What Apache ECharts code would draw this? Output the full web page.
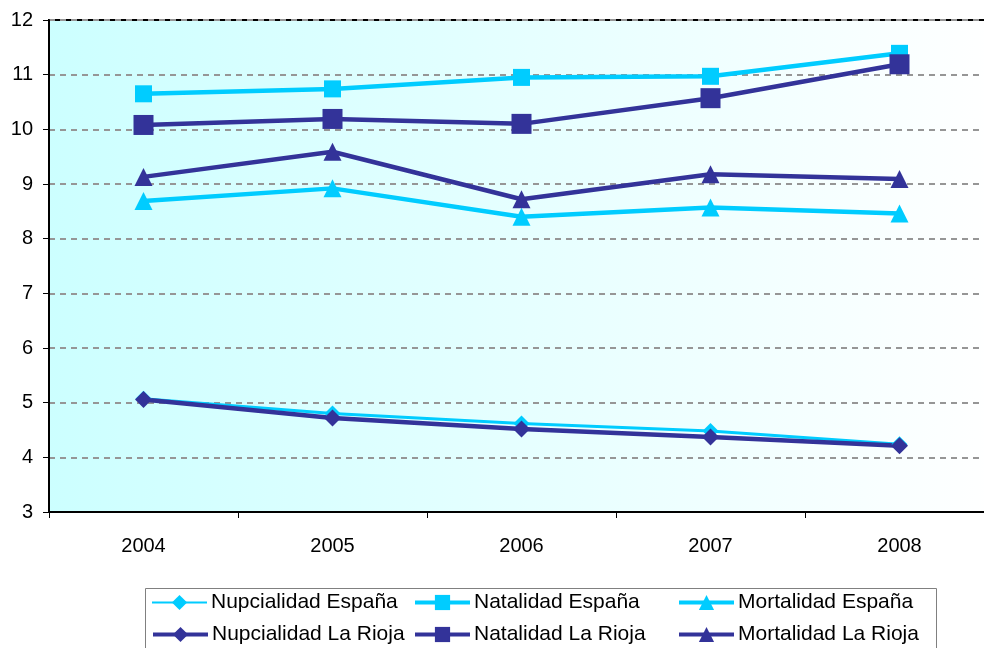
<!DOCTYPE html>
<html><head><meta charset="utf-8">
<script src="https://cdn.jsdelivr.net/npm/echarts@6/dist/echarts.min.js"></script>
<style>html,body{margin:0;padding:0;background:#fff;overflow:hidden;width:984px;height:648px}#c{width:996px;height:648px}</style>
</head><body><div id="c"></div>
<script>
var years = ['2004','2005','2006','2007','2008'];
var nupEsp = [5.07, 4.80, 4.62, 4.48, 4.24];
var natEsp = [10.65, 10.74, 10.95, 10.97, 11.39];
var morEsp = [8.69, 8.92, 8.40, 8.57, 8.46];
var nupRio = [5.06, 4.72, 4.52, 4.37, 4.21];
var natRio = [10.08, 10.19, 10.10, 10.57, 11.19];
var morRio = [9.13, 9.59, 8.72, 9.18, 9.09];
var seriesNames = ['Nupcialidad España','Natalidad España','Mortalidad España','Nupcialidad La Rioja','Natalidad La Rioja','Mortalidad La Rioja'];

var light = '#00ccff', dark = '#333399';
var FONT = 'Liberation Sans, Arial, sans-serif';
var chart = echarts.init(document.getElementById('c'), null, {renderer:'canvas'});

function mk(name, data, color, symbol, size, width) {
  return {
    name: name, type: 'line', data: data, symbol: symbol, symbolSize: size,
    lineStyle: {color: color, width: width}, itemStyle: {color: color},
    emphasis: {disabled: true}, animation: false, z: 3
  };
}
var legendPos = [[151,592],[413,592],[677,592],[151,624],[413,624],[677,624]];
var legendLineW = [2, 4, 4, 4, 4, 4];
var legends = seriesNames.map(function(n, i){
  return {
    data: [n], left: legendPos[i][0], top: legendPos[i][1], itemWidth: 55, itemHeight: 19,
    itemGap: 4, padding: 0, selectedMode: false,
    lineStyle: {width: legendLineW[i]},
    textStyle: {fontFamily: FONT, fontSize: 21, color: '#000', padding: [0,0,0,-1]}
  };
});

chart.setOption({
  animation: false,
  backgroundColor: '#fff',
  grid: {
    left: 49, top: 20, right: 2, height: 492, show: true,
    borderColor: '#000', borderWidth: 2,
    backgroundColor: new echarts.graphic.LinearGradient(0, 0, 1, 0, [
      {offset: 0, color: '#ccffff'}, {offset: 1, color: '#ffffff'}
    ])
  },
  graphic: [{
    type: 'rect', left: 145, top: 588, shape: {width: 791, height: 70},
    style: {fill: '#fff', stroke: '#808080', lineWidth: 1}, z: -1
  }],
  legend: legends,
  xAxis: {
    type: 'category', data: years, boundaryGap: true,
    axisLine: {show: true, lineStyle: {color: '#000', width: 2}},
    axisTick: {show: true, length: 6, lineStyle: {color: '#000', width: 1}},
    axisLabel: {fontFamily: FONT, fontSize: 20, color: '#000', margin: 24},
    splitLine: {show: false}
  },
  yAxis: {
    type: 'value', min: 3, max: 12, interval: 1,
    axisLine: {show: true, lineStyle: {color: '#000', width: 2}},
    axisTick: {show: true, length: 6, lineStyle: {color: '#000', width: 1}},
    axisLabel: {fontFamily: FONT, fontSize: 20, color: '#000', margin: 16},
    splitLine: {show: true, lineStyle: {color: '#969696', width: 2, type: [6, 5]}}
  },
  series: [
    mk(seriesNames[0], nupEsp, light, 'diamond', 16, 3),
    mk(seriesNames[1], natEsp, light, 'rect', 17, 4.5),
    mk(seriesNames[2], morEsp, light, 'triangle', 18, 4.5),
    mk(seriesNames[3], nupRio, dark, 'diamond', 17, 4.5),
    mk(seriesNames[4], natRio, dark, 'rect', 20, 4.5),
    mk(seriesNames[5], morRio, dark, 'triangle', 18, 4.5)
  ]
});
</script></body></html>
